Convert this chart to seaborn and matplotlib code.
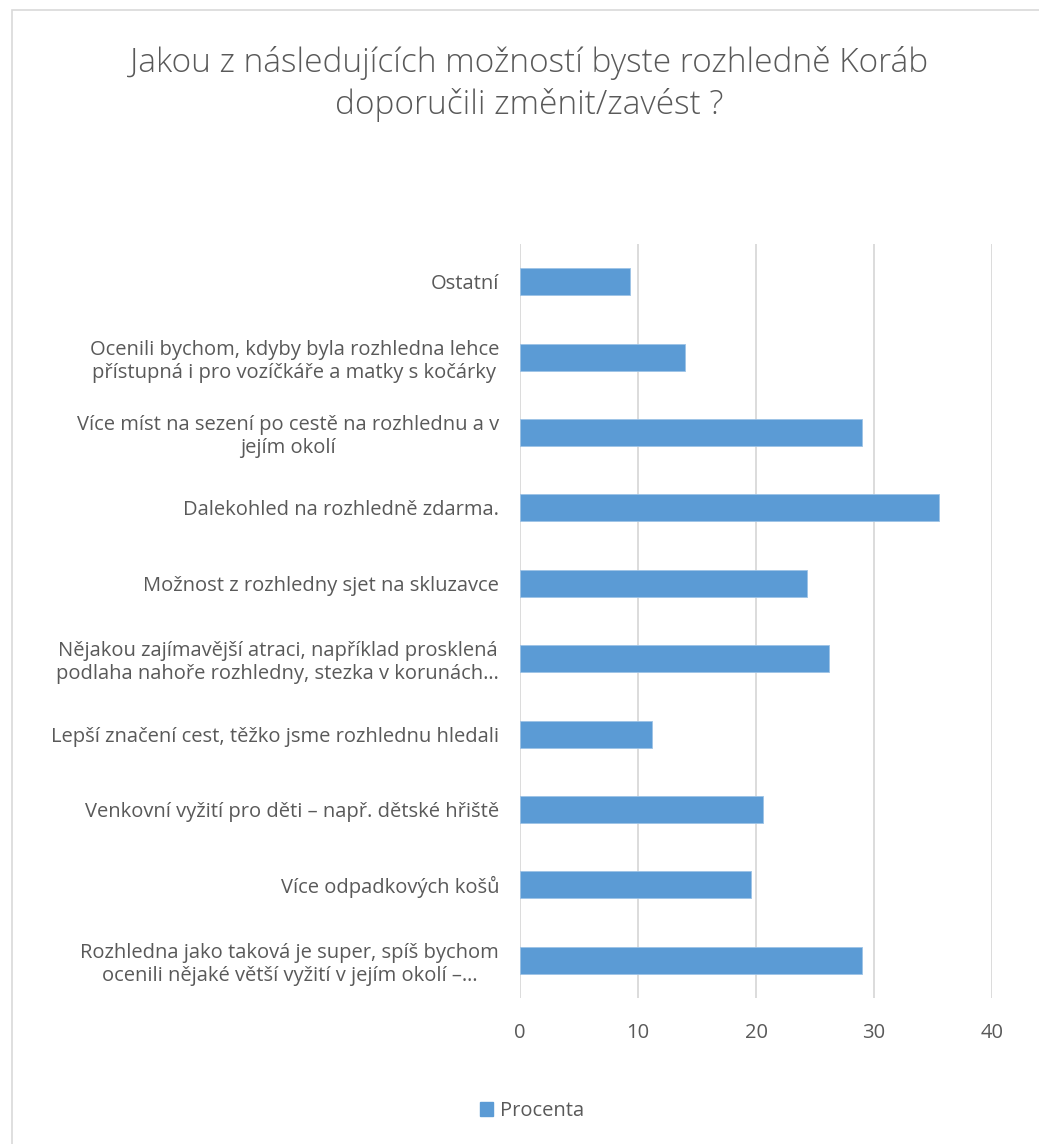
import matplotlib
matplotlib.use("Agg")
import matplotlib.pyplot as plt
import seaborn as sns
import pandas as pd
from matplotlib.patches import Rectangle, Patch

categories = [
    "Ostatní",
    "Ocenili bychom, kdyby byla rozhledna lehce\npřístupná i pro vozíčkáře a matky s kočárky",
    "Více míst na sezení po cestě na rozhlednu a v\njejím okolí",
    "Dalekohled na rozhledně zdarma.",
    "Možnost z rozhledny sjet na skluzavce",
    "Nějakou zajímavější atraci, například prosklená\npodlaha nahoře rozhledny, stezka v korunách…",
    "Lepší značení cest, těžko jsme rozhlednu hledali",
    "Venkovní vyžití pro děti – např. dětské hřiště",
    "Více odpadkových košů",
    "Rozhledna jako taková je super, spíš bychom\nocenili nějaké větší vyžití v jejím okolí –…",
]
values = [9.3, 14.0, 29.0, 35.5, 24.3, 26.2, 11.2, 20.6, 19.6, 29.0]
xticks = [0, 10, 20, 30, 40]
series_name = "Procenta"
title = "Jakou z následujících možností byste rozhledně Koráb\ndoporučili změnit/zavést ?"

df = pd.DataFrame({"cat": categories, "val": values})

sns.set_theme(style="white")
plt.rcParams["font.family"] = ["Open Sans", "DejaVu Sans"]

TXT = "#595959"
BAR = "#5B9BD5"
GRID = "#D9D9D9"

fig = plt.figure(figsize=(10.39, 11.44), dpi=100)
ax = fig.add_axes([520 / 1039, 1 - 998 / 1144, (992 - 520) / 1039, (998 - 244) / 1144])

sns.barplot(data=df, x="val", y="cat", color=BAR, width=0.36, ax=ax,
            orient="h", saturation=1, edgecolor="#9DC3E6", linewidth=0.6)

ax.set_xlim(0, 40)
ax.set_xticks(xticks)
ax.set_xticklabels([str(t) for t in xticks], color=TXT, fontsize=14.5)
ax.set_xlabel("")
ax.set_ylabel("")
for lbl in ax.get_yticklabels():
    lbl.set_multialignment("center")
    lbl.set_color(TXT)
    lbl.set_fontsize(14.5)
ax.tick_params(axis="y", length=0, pad=15)
ax.tick_params(axis="x", length=0, pad=18)
ax.grid(axis="x", color=GRID, linewidth=1.3)
ax.set_axisbelow(True)
for s in ax.spines.values():
    s.set_visible(False)

fig.text(529 / 1039, 1 - 84 / 1144, title, ha="center", va="center", fontsize=24,
         color=TXT, linespacing=1.3, fontweight="light")

leg_handles = [Patch(facecolor=BAR, edgecolor=BAR, label=series_name)]
fig.legend(handles=leg_handles, loc="center", bbox_to_anchor=(532 / 1039, 1 - 1111 / 1144),
           frameon=False, fontsize=14.5, handlelength=0.65, handleheight=0.65,
           handletextpad=0.3, labelcolor=TXT)

fig.patches.append(Rectangle((12 / 1039, -0.01), 1.02, 1 - 10 / 1144 + 0.01,
                             transform=fig.transFigure, fill=False,
                             edgecolor="#D9D9D9", linewidth=1.2))

fig.savefig("out.png", dpi=100, facecolor="white")
